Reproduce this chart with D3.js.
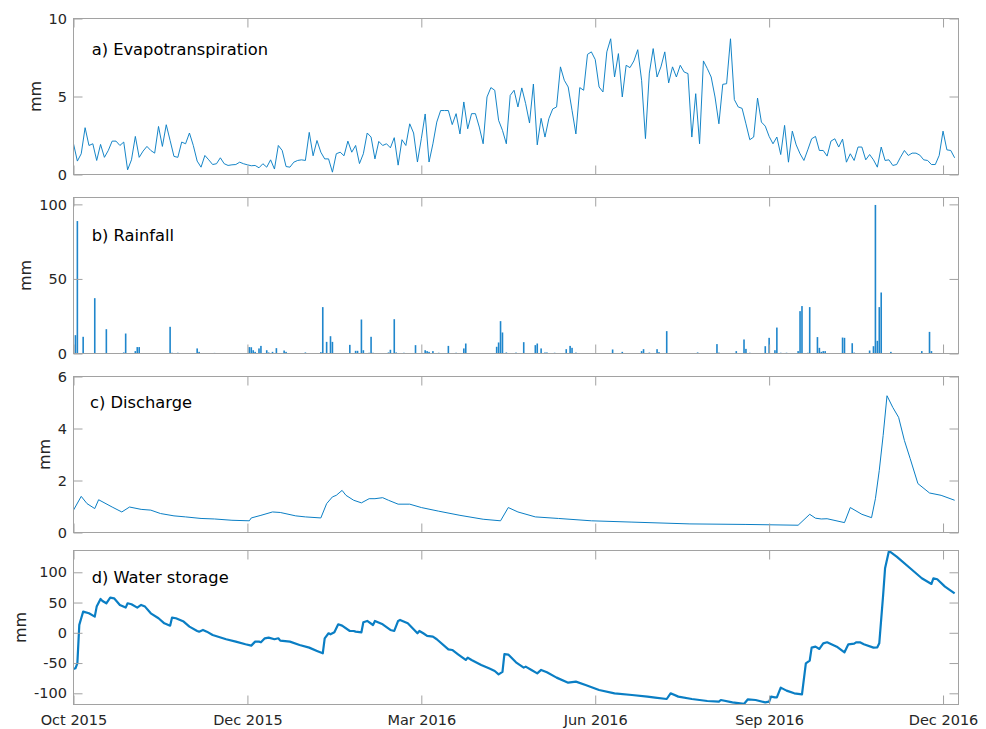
<!DOCTYPE html>
<html><head><meta charset="utf-8">
<script src="https://cdn.jsdelivr.net/npm/d3@7"></script>
<style>
body{margin:0;background:#fff}
svg{display:block}
text{font-family:"DejaVu Sans",sans-serif}
</style>
</head><body>
<svg id="chart" width="986" height="729"></svg>
<script>
// ---------- DATA ----------
const startDateUTC = Date.UTC(2015, 9, 1);   // 1 Oct 2015 = day 0
const spanDays = 458;
const xTickDays = [0, 90, 180, 270, 360, 450];

// Evapotranspiration (mm), one reading every 2 days from day 0
const etStepDays = 2;
const etValues = [
1.97,0.86,1.33,3.0,1.86,1.97,0.9,1.93,1.1,1.54,2.14,2.14,1.86,2.08,0.3,0.94,2.44,1.1,1.5,1.8,
1.54,1.37,3.08,1.8,3.19,2.18,1.16,1.1,2.08,1.97,2.66,1.86,0.86,0.47,1.22,0.94,0.64,0.69,1.07,0.69,
0.58,0.62,0.64,0.79,0.69,0.62,0.56,0.58,0.43,0.69,0.47,0.94,0.35,1.86,1.54,0.51,0.47,0.79,0.9,0.94,
0.9,2.7,1.2,2.18,1.43,1.0,1.0,0.15,1.33,1.43,1.2,2.14,1.43,1.86,0.7,1.33,2.66,2.4,1.0,2.12,
1.86,1.97,1.71,2.36,0.6,2.23,1.86,3.25,2.66,0.8,2.29,3.88,0.8,1.97,3.36,4.1,4.1,4.1,3.2,3.9,
2.6,4.65,2.93,3.9,3.9,3.04,1.97,4.97,5.57,5.4,3.47,2.83,1.97,5.07,5.4,4.33,5.55,4.54,3.3,5.8,
1.9,3.6,2.4,3.58,4.2,4.33,6.9,6.04,5.61,4.11,2.6,5.57,5.4,7.7,7.86,7.37,5.61,5.29,7.86,8.7,
6.25,7.75,4.97,7.0,6.85,7.28,8.0,6.04,2.3,6.5,8.07,6.25,6.9,7.86,5.87,6.9,6.25,7.0,6.57,6.47,
2.4,5.18,1.97,7.28,6.79,6.25,4.97,3.25,5.78,5.82,8.7,4.8,4.33,4.24,3.25,2.23,2.4,4.9,3.36,3.1,
2.44,1.97,2.4,1.28,3.15,0.79,2.78,1.9,1.33,0.9,1.58,2.29,2.44,1.54,1.54,1.18,2.14,2.29,1.76,2.27,
0.79,1.33,0.9,1.76,1.76,0.94,1.28,0.94,0.47,1.76,0.9,0.94,0.58,0.64,1.11,1.54,1.22,1.37,1.37,1.24,
0.94,0.9,0.64,0.64,1.22,2.78,1.58,1.54,1.07
];

// Rainfall (mm) on the days it rained
const rainDays = [1,2,5,11,17,26,27,32,33,34,50,51,54,64,65,73,82,91,92,93,94,96,97,100,101,103,105,109,110,120,
128,129,131,133,134,143,146,147,149,150,153,154,155,163,164,166,167,171,177,182,183,184,186,189,194,198,202,203,
219,220,221,222,224,229,233,239,240,242,244,245,249,255,257,258,260,279,284,294,295,298,302,303,307,323,333,334,
343,347,348,350,358,360,363,364,366,369,375,376,377,380,381,385,386,387,388,389,398,399,403,404,412,414,415,416,
417,418,423,439,443,444];
const rainValues = [12.3,88.8,11.2,37.1,16.3,0.7,13.4,1.6,4.3,4.3,17.9,0.5,0.5,3.4,1.1,0.4,0.3,4.3,4.2,2.2,1.1,3.4,5.1,2.2,0.7,1.1,3.6,2.0,1.1,0.7,
0.9,31.1,7.8,11.6,7.8,5.8,1.8,1.8,22.8,2.2,0.5,11.2,0.5,0.7,2.5,23.0,0.7,0.5,5.6,2.2,1.6,1.1,1.6,0.5,5.1,0.5,3.4,6.7,
4.5,7.4,21.7,14.1,0.7,0.6,7.6,5.6,6.7,3.4,0.7,0.7,0.5,2.9,5.1,3.8,0.6,2.7,1.1,1.6,2.9,0.6,2.9,0.9,15.0,0.7,6.3,0.6,
1.6,9.4,3.1,0.5,4.9,10.5,2.2,17.4,0.5,0.5,1.6,28.4,31.8,0.5,31.1,11.0,3.8,1.1,1.6,1.6,10.7,10.5,6.9,0.6,2.0,4.9,99.6,8.5,
31.1,40.9,1.1,1.6,14.5,1.6];

// Discharge (mm)
const dischargeDays = [0,4,7,11,13,20,25,29,35,40,45,52,58,66,73,82,91,92,97,103,107,115,120,128,131,134,136,139,141,145,
149,153,156,160,163,168,174,180,189,200,212,221,225,230,239,251,268,289,319,348,375,381,384,387,390,399,402,408,413,415,
417,419,421,424,427,430,433,437,443,449,456];
const dischargeValues = [0.86,1.39,1.11,0.92,1.26,0.98,0.79,0.98,0.89,0.86,0.73,0.64,0.6,0.54,0.52,0.47,0.45,0.56,0.66,0.79,0.77,0.64,0.6,0.56,1.11,1.37,1.43,1.62,1.43,1.24,
1.14,1.3,1.3,1.34,1.24,1.09,1.09,0.96,0.82,0.66,0.51,0.45,0.96,0.79,0.6,0.54,0.45,0.4,0.33,0.31,0.28,0.7,0.55,0.52,0.53,0.38,0.96,0.7,0.57,1.3,
2.39,3.73,5.26,4.81,4.43,3.54,2.84,1.88,1.52,1.43,1.24];

// Water storage (mm)
const storageDays = [0,1,2,3,4,5,8,11,12,14,15,17,19,21,24,27,28,30,33,35,37,40,44,47,50,51,53,57,60,64,65,67,69,72,79,84,89,92,94,96,97,99,
101,104,106,107,112,117,122,126,129,130,132,133,135,137,139,143,145,146,149,150,152,155,156,160,164,166,168,169,173,178,179,181,183,186,188,194,196,199,
203,204,206,211,215,218,220,222,223,225,229,233,234,237,240,242,245,250,256,260,265,272,280,289,297,301,307,309,313,320,328,334,335,341,347,349,353,358,
360,361,363,364,366,369,373,377,379,381,382,384,386,388,390,395,399,401,404,405,407,409,414,416,417,419,420,422,426,433,439,444,445,447,451,456];
const storageValues = [-59.8,-58.7,-50.4,13,24,35,32.2,26.7,43.3,55.9,52.6,48.8,58.1,57,46,41.6,48.8,47.1,41.6,46,43.3,32.2,24,15.7,11.8,25.1,24,18.5,10.2,3,1.9,4.7,1.9,-3.6,-10.7,-14.6,-19,-21.2,-14.6,-14.6,-15.7,-9.1,
-8,-10.7,-9.1,-12.9,-14.6,-20.1,-24.5,-30,-33.9,-9.1,-0.8,-2.5,0.8,14,11.8,3,3,1.9,0.8,17.4,19.6,12.9,19.6,14,4.7,3,19.6,21.2,15.7,-0.8,3,-0.8,-5.2,-6.3,-10.7,-27.3,-28.4,-35.5,
-44.9,-41,-44.9,-53.2,-58.7,-63.1,-68.6,-64.5,-35.3,-36,-48.8,-57.6,-55.9,-61.4,-67,-61.4,-65.3,-74.1,-82.4,-80.7,-86.2,-94.5,-100,-102.8,-105.5,-107.2,-109.4,-100,-105.5,-109.4,-112.7,-113.8,-111.1,-114.9,-117.6,-109.9,-111.1,-114.9,
-113.8,-105.5,-106.6,-106.6,-90.6,-95.6,-100,-101.7,-50.4,-46,-24.5,-22.9,-26.7,-17.4,-15.7,-22.9,-32.2,-19,-18,-15.7,-15.7,-19,-24.5,-24,-17.4,62.5,106.6,135.3,125.9,106.6,90.1,80.7,90.1,88.4,76.3,65.3];

const panelLabels = ["a) Evapotranspiration", "b) Rainfall", "c) Discharge", "d) Water storage"];
const yTickValues = [[0,5,10],[0,50,100],[0,2,4,6],[-100,-50,0,50,100]];
const yDomains = [[0,10],[0,104.6],[0,6],[-118.5,136]];
const yLabel = "mm";

// ---------- LAYOUT / STYLE ----------
const LEFT = 73.5, RIGHT = 958.5;
const panelBoxes = [
  {top:18.5, bottom:174.5, labelY:55.3, labelX:91.7},
  {top:197.5, bottom:353.5, labelY:240.7, labelX:91.7},
  {top:376.5, bottom:532.5, labelY:407.7, labelX:90},
  {top:550.5, bottom:704.5, labelY:583.3, labelX:91.7}
];
const BLUE = "#0a7ec4";
const FRAME = "#a2a2a2";
const TXT = "#262626";
const TICK_FS = "14.5px";

const dayDate = d => new Date(startDateUTC + d * 864e5);
const svg = d3.select("#chart");
const x = d3.scaleUtc().domain([dayDate(0), dayDate(spanDays)]).range([LEFT, RIGHT]);
const xTickDates = xTickDays.map(dayDate);
const fmtX = d3.utcFormat("%b %Y");

function styleAxis(g) {
  g.select(".domain").remove();
  g.selectAll(".tick line").attr("stroke", FRAME).attr("stroke-width", 1);
  g.selectAll(".tick text").attr("fill", TXT).style("font-size", TICK_FS)
    .style("font-family", "DejaVu Sans, sans-serif");
}

panelBoxes.forEach((pb, i) => {
  const y = d3.scaleLinear().domain(yDomains[i]).range([pb.bottom, pb.top]);
  const g = svg.append("g");
  const clipId = "clip" + i;
  svg.append("clipPath").attr("id", clipId).append("rect")
    .attr("x", LEFT).attr("y", pb.top).attr("width", RIGHT - LEFT).attr("height", pb.bottom - pb.top);
  const plot = g.append("g").attr("clip-path", `url(#${clipId})`);

  if (i === 0) {
    const pts = etValues.map((v, k) => [dayDate(k * etStepDays), v]);
    plot.append("path").datum(pts)
      .attr("fill", "none").attr("stroke", BLUE).attr("stroke-width", 0.95).attr("stroke-linejoin", "round")
      .attr("d", d3.line().x(d => x(d[0])).y(d => y(d[1])));
  } else if (i === 1) {
    plot.selectAll("rect").data(rainDays.map((d, k) => [dayDate(d), rainValues[k]]))
      .join("rect")
      .attr("x", d => x(d[0]) - 0.8).attr("width", 1.6)
      .attr("y", d => y(d[1])).attr("height", d => y(0) - y(d[1]))
      .attr("fill", "#1f86cc");
  } else {
    const days = i === 2 ? dischargeDays : storageDays;
    const vals = i === 2 ? dischargeValues : storageValues;
    const pts = days.map((d, k) => [dayDate(d), vals[k]]);
    plot.append("path").datum(pts)
      .attr("fill", "none").attr("stroke", BLUE).attr("stroke-width", i === 2 ? 1.0 : 2.2)
      .attr("stroke-linejoin", "round")
      .attr("d", d3.line().x(d => x(d[0])).y(d => y(d[1])));
  }

  // axes (ticks pointing inward on all sides)
  const gb = g.append("g").attr("transform", `translate(0,${pb.bottom})`)
    .call(d3.axisBottom(x).tickValues(xTickDates).tickSizeInner(-9).tickSizeOuter(0).tickPadding(10)
      .tickFormat(i === 3 ? fmtX : () => ""));
  styleAxis(gb);
  gb.selectAll(".tick text").attr("dy", "0.71em");
  const gt = g.append("g").attr("transform", `translate(0,${pb.top})`)
    .call(d3.axisTop(x).tickValues(xTickDates).tickSizeInner(-9).tickSizeOuter(0).tickFormat(() => ""));
  styleAxis(gt);
  const gl = g.append("g").attr("transform", `translate(${LEFT},0)`)
    .call(d3.axisLeft(y).tickValues(yTickValues[i]).tickSizeInner(-9).tickSizeOuter(0).tickPadding(6.5)
      .tickFormat(d => String(d)));
  styleAxis(gl);
  const gr = g.append("g").attr("transform", `translate(${RIGHT},0)`)
    .call(d3.axisRight(y).tickValues(yTickValues[i]).tickSizeInner(-9).tickSizeOuter(0).tickFormat(() => ""));
  styleAxis(gr);

  // frame
  g.append("rect").attr("x", LEFT).attr("y", pb.top).attr("width", RIGHT - LEFT).attr("height", pb.bottom - pb.top)
    .attr("fill", "none").attr("stroke", FRAME).attr("stroke-width", 1);

  // y label
  let maxW = 0;
  gl.selectAll(".tick text").each(function () { maxW = Math.max(maxW, this.getComputedTextLength()); });
  const lx = LEFT - 6.5 - maxW - 13.5;
  const ly = (pb.top + pb.bottom) / 2;
  g.append("text").attr("transform", `translate(${lx},${ly}) rotate(-90)`)
    .attr("text-anchor", "middle").attr("dy", "0.35em")
    .attr("fill", TXT).style("font-size", "16px").text(yLabel);

  // panel label
  g.append("text").attr("x", pb.labelX).attr("y", pb.labelY)
    .attr("fill", "#000").style("font-size", "16.3px").text(panelLabels[i]);
});
</script>
</body></html>
